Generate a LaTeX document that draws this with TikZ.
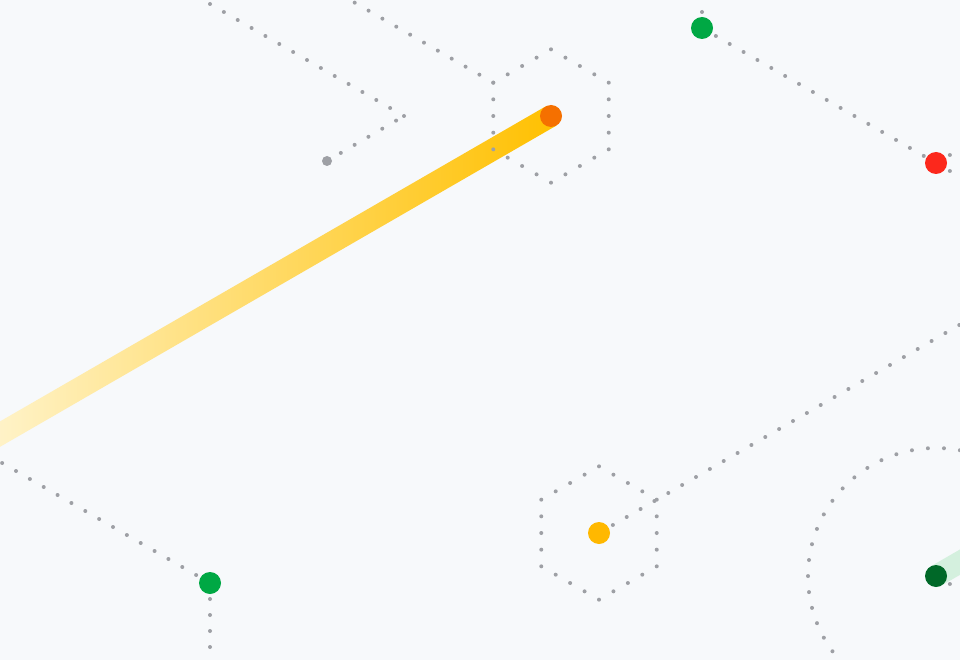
\documentclass[tikz,border=0pt]{standalone}
\usepackage{tikz}
\usetikzlibrary{calc}
\definecolor{bgcol}{RGB}{247,249,251}
\definecolor{dotgray}{RGB}{158,160,165}
\definecolor{goldline}{RGB}{255,192,0}
\definecolor{midline}{RGB}{255,214,85}
\definecolor{paleline}{RGB}{255,244,205}
\definecolor{mintline}{RGB}{212,240,222}
\definecolor{dotorange}{RGB}{245,112,0}
\definecolor{dotgreen}{RGB}{0,168,68}
\definecolor{dotred}{RGB}{252,40,28}
\definecolor{dotyellow}{RGB}{255,184,0}
\definecolor{dotdkgreen}{RGB}{0,104,40}

\begin{document}
\begin{tikzpicture}[x=1pt,y=-1pt,
    dotline/.style={draw=dotgray,line width=4pt,line cap=round,dash pattern=on 0pt off 16pt},
    hexline/.style={dotline,dash pattern=on 0pt off 16.667pt}]
    \useasboundingbox (0,0) rectangle (960,660);
    \fill[bgcol] (0,0) rectangle (960,660);
    \clip (0,0) rectangle (960,660);
    \coordinate (hexA) at (551,116);
    \coordinate (hexB) at (599,533);
    \coordinate (bend) at (404,116);
    \coordinate (tip)  at (327,161);
    \coordinate (grnA) at (702,28);
    \coordinate (redA) at (936,163);
    \coordinate (grnB) at (210,583);
    \coordinate (grnC) at (936,576);
    \shade[left color=paleline,middle color=midline,right color=goldline]
      (hexA) ++(60:11) -- ++(150:650) -- ++(240:22) -- ++(-30:650) -- cycle;
    \draw[mintline,line width=22pt] (grnC) -- ++(-30:60);
    \draw[dotline] (bend) -- ++(210:240);
    \draw[dotline] (tip) -- (bend);
    \draw[dotline] (hexA) ++(210:66.667) -- ++(210:176);
    \draw[dotline] (grnA) -- ++(0,-40);
    \draw[dotline] (grnA) -- (redA);
    \draw[dotline] (redA) -- ++(-30:40);
    \draw[dotline] (redA) -- ++(30:40);
    \draw[dotline] (grnB) -- ++(210:260);
    \draw[dotline] (grnB) -- ++(0,100);
    \draw[dotline] (hexB) -- ++(-30:440);
    \draw[dotline] (grnC) -- ++(30:40);
    \draw[dotline,dash pattern=on 0pt off 16.085pt] (grnC) circle (128);
    \foreach \c in {hexA,hexB}
      \draw[hexline] (\c) +(-90:66.667) -- +(-30:66.667) -- +(30:66.667) -- +(90:66.667) -- +(150:66.667) -- +(210:66.667) -- cycle;
    \fill[dotgray] (tip) circle (5);
    \foreach \p/\c in {hexA/dotorange,grnA/dotgreen,redA/dotred,grnB/dotgreen,hexB/dotyellow,grnC/dotdkgreen}
      \fill[\c] (\p) circle (11);
\end{tikzpicture}
\end{document}
